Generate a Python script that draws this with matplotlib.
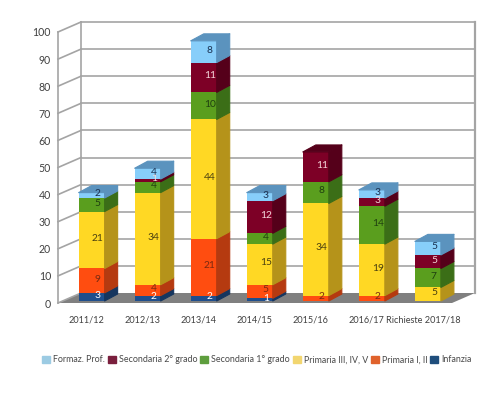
"""Stacked 3D-look bars: requests per school year."""
import matplotlib
matplotlib.use("Agg")
import matplotlib.pyplot as plt
from matplotlib.patches import Patch, Polygon
import numpy as np

years = ["2011/12", "2012/13", "2013/14", "2014/15", "2015/16", "2016/17", "Richieste 2017/18"]
infanzia = [3, 2, 2, 1, 0, 0, 0]
primaria_1 = [9, 4, 21, 5, 2, 2, 0]
primaria_3 = [21, 34, 44, 15, 34, 19, 5]
secondaria_1 = [5, 4, 10, 4, 8, 14, 7]
secondaria_2 = [0, 1, 11, 12, 11, 3, 5]
formaz = [2, 4, 8, 3, 0, 3, 5]

series = [infanzia, primaria_1, primaria_3, secondaria_1, secondaria_2, formaz]
names = ["Infanzia", "Primaria I, II", "Primaria III, IV, V",
         "Secondaria 1° grado", "Secondaria 2° grado", "Formaz. Prof."]
C_FRONT = ["#1F4E8C", "#FF4D10", "#FFD824", "#5A9E1E", "#7D0026", "#87CEFA"]
C_SIDE = ["#16365F", "#B53A10", "#B5931A", "#3B6E17", "#55001A", "#5B93BE"]
C_TEXT = ["white", "#7a2a10", "#4a4010", "#1f3f10", "#f4d8dc", "#1a3050"]
C_LEGEND = ["#1F4E7C", "#E0622C", "#F2D670", "#5E9E3E", "#7A1F3D", "#9CCBE3"]
C_GRID = "#a4a4a4"

plt.rcParams["font.family"] = ["Lato", "DejaVu Sans"]

W, H = 500, 396
fig = plt.figure(figsize=(W / 100, H / 100), dpi=100)
# axes = front plane of the chart box
ax = fig.add_axes([58 / W, 1 - 303 / H, 394 / W, 271 / H])
ax.set_xlim(-0.6, 6.43)
ax.set_ylim(0, 100)
for s in ax.spines.values():
    s.set_visible(False)

px = 7.03 / 394          # one pixel in x data units
py = 100 / 271           # one pixel in y data units
wall_dx, wall_dy = 23 * px, 10 * py
bar_w = 26 * px
bar_dx, bar_dy = 13 * px, 7 * py
lift = 2 * py            # bars stand slightly inside the floor

# walls and floor
x0, x1 = ax.get_xlim()
ax.add_patch(Polygon([(x0, 0), (x1, 0), (x1 + wall_dx, wall_dy), (x0 + wall_dx, wall_dy)],
                     fc="#808080", ec="none", clip_on=False, zorder=1))
ticks = np.arange(0, 101, 10)
for v in ticks:
    ax.plot([x0, x0 + wall_dx], [v, v + wall_dy], color=C_GRID, lw=1.2, clip_on=False, zorder=1)
    if v > 0:
        ax.plot([x0 + wall_dx, x1 + wall_dx], [v + wall_dy] * 2, color=C_GRID, lw=1.2,
                clip_on=False, zorder=1)
ax.plot([x0, x0], [0, 100], color=C_GRID, lw=1.2, clip_on=False, zorder=1)
ax.plot([x0 + wall_dx] * 2, [wall_dy, 100 + wall_dy], color=C_GRID, lw=1.2, clip_on=False, zorder=1)
ax.plot([x1 + wall_dx] * 2, [wall_dy, 100 + wall_dy], color=C_GRID, lw=1.6, clip_on=False, zorder=1)

# bars
bottom = np.zeros(len(years))
for vals, fc, sc, tc in zip(series, C_FRONT, C_SIDE, C_TEXT):
    vals = np.array(vals, dtype=float)
    tops = bottom + vals
    ax.bar(range(len(years)), vals, bottom=bottom + lift, width=bar_w, color=fc,
           clip_on=False, zorder=3)
    for i, v in enumerate(vals):
        if v == 0:
            continue
        r = i + bar_w / 2
        b, t = bottom[i] + lift, tops[i] + lift
        ax.add_patch(Polygon([(r, b), (r + bar_dx, b + bar_dy), (r + bar_dx, t + bar_dy), (r, t)],
                             fc=sc, ec=sc, lw=0.8, joinstyle="round", clip_on=False, zorder=3))
        ax.text(i + 6 * px, (b + t) / 2 + 0.6, f"{v:.0f}", color=tc, fontsize=7.4, ha="center",
                va="center", clip_on=False, zorder=5)
    bottom = tops

# cap on each stack, coloured by its topmost segment
for i in range(len(years)):
    top_idx = max(k for k, s in enumerate(series) if s[i] > 0)
    t = bottom[i] + lift
    l, r = i - bar_w / 2, i + bar_w / 2
    cap = C_SIDE[top_idx]
    ax.add_patch(Polygon([(l, t), (r, t), (r + bar_dx, t + bar_dy), (l + bar_dx, t + bar_dy)],
                         fc=cap, ec=cap, lw=0.8, joinstyle="round", clip_on=False, zorder=4))

ax.set_yticks(ticks)
ax.set_xticks(np.arange(len(years)) - 0.09, years)
ax.tick_params(axis="both", length=0, labelcolor="#404040")
ax.tick_params(axis="y", pad=5, labelsize=7.6)
ax.tick_params(axis="x", pad=9, labelsize=6.6)

handles = [Patch(color=c, label=n) for c, n in zip(C_LEGEND[::-1], names[::-1])]
fig.legend(handles=handles, loc="center", bbox_to_anchor=(257 / W, 1 - 360 / H), ncol=6, frameon=False,
           fontsize=6.4, handlelength=0.9, handleheight=0.9, handletextpad=0.35, columnspacing=0.3,
           labelcolor="#484848", borderpad=0)

fig.savefig("out.png", dpi=100)
